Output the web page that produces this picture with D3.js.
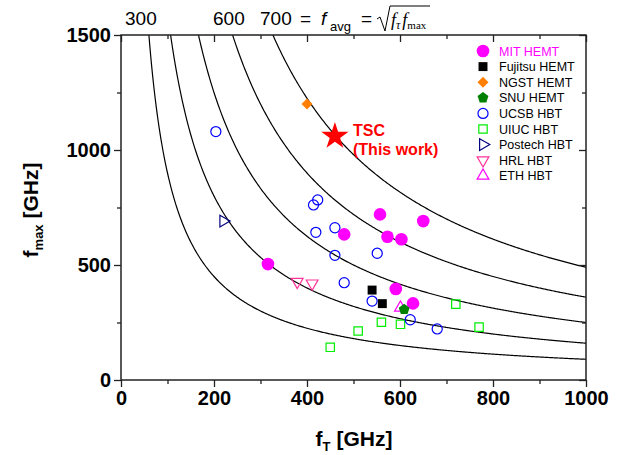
<!DOCTYPE html>
<html>
<head>
<meta charset="utf-8">
<script src="https://cdn.jsdelivr.net/npm/d3@7"></script>
<style>
  body { margin: 0; background: #fff; }
  svg { font-family: Arial, "Liberation Sans", sans-serif; }
</style>
</head>
<body>
<div id="chart"></div>
<script>
// Data: [fT, fmax] in GHz.
var mitHemt = [[557, 720], [650, 691], [480, 633], [573, 623], [603, 612], [316, 504], [591, 396], [628, 333]];
var fujitsuHemt = [[540, 391], [562, 332]];
var ngstHemt = [[400, 1200]];
var snuHemt = [[609, 307]];
var ucsbHbt = [[204, 1080], [423, 783], [414, 761], [419, 642], [460, 662], [460, 542], [551, 551], [480, 423], [540, 343], [622, 262], [680, 222]];
var uiucHbt = [[720, 330], [770, 230], [560, 251], [601, 242], [510, 213], [450, 142]];
var postechHbt = [[220, 691]];
var hrlHbt = [[379, 427], [411, 420]];
var ethHbt = [[601, 314]];
var thisWork = [[460, 1060]];

// Constant sqrt(fT * fmax) contours.
var avgLevels = [300, 400, 500, 600, 700];
var topLabels = ["300", "600", "700"];

var xMajor = [0, 200, 400, 600, 800, 1000];
var xMinor = [100, 300, 500, 700, 900];
var yMajor = [0, 500, 1000, 1500];
var yMinor = [250, 750, 1250];

var width = 623, height = 455;
var svg = d3.select("#chart").append("svg")
    .attr("width", width)
    .attr("height", height);

var x = d3.scaleLinear().domain([0, 1000]).range([121, 586]);
var y = d3.scaleLinear().domain([0, 1500]).range([380, 35]);

// Contour curves.
var curve = d3.line().x(d => x(d[0])).y(d => y(d[1]));
svg.append("clipPath").attr("id", "plot")
  .append("rect").attr("x", x(0)).attr("y", y(1500)).attr("width", x(1000) - x(0)).attr("height", y(0) - y(1500));

svg.append("g").attr("clip-path", "url(#plot)")
  .selectAll("path")
  .data(avgLevels)
  .join("path")
    .attr("d", f => {
      var start = f * f / 1500, pts = [];
      for (var t = start; t <= 1000; t += 2) pts.push([t, f * f / t]);
      pts.push([1000, f * f / 1000]);
      return curve(pts);
    })
    .attr("fill", "none")
    .attr("stroke", "#000")
    .attr("stroke-width", 1.2);

// Axes.
function styleAxis(g) {
  g.select(".domain").remove();
  g.selectAll(".tick line").attr("stroke", "#222").attr("stroke-width", 1.3);
  g.selectAll("text").attr("font-size", 20).attr("font-weight", "bold").attr("fill", "#000").attr("font-family", "Arial, Liberation Sans, sans-serif");
}

svg.append("g").attr("transform", "translate(0," + y(0) + ")")
  .call(d3.axisBottom(x).tickValues(xMajor).tickSize(7).tickPadding(4).tickFormat(d3.format("d")))
  .call(styleAxis);
svg.append("g").attr("transform", "translate(0," + y(0) + ")")
  .call(d3.axisBottom(x).tickValues(xMinor).tickSize(4).tickFormat(""))
  .call(styleAxis);
svg.append("g").attr("transform", "translate(0," + y(1500) + ")")
  .call(d3.axisTop(x).tickValues(xMajor).tickSize(-7).tickFormat(""))
  .call(styleAxis);
svg.append("g").attr("transform", "translate(0," + y(1500) + ")")
  .call(d3.axisTop(x).tickValues(xMinor).tickSize(-4).tickFormat(""))
  .call(styleAxis);

svg.append("g").attr("transform", "translate(" + x(0) + ",0)")
  .call(d3.axisLeft(y).tickValues(yMajor).tickSize(7).tickPadding(3).tickFormat(d3.format("d")))
  .call(styleAxis);
svg.append("g").attr("transform", "translate(" + x(0) + ",0)")
  .call(d3.axisLeft(y).tickValues(yMinor).tickSize(4).tickFormat(""))
  .call(styleAxis);
svg.append("g").attr("transform", "translate(" + x(1000) + ",0)")
  .call(d3.axisRight(y).tickValues(yMajor).tickSize(-7).tickFormat(""))
  .call(styleAxis);
svg.append("g").attr("transform", "translate(" + x(1000) + ",0)")
  .call(d3.axisRight(y).tickValues(yMinor).tickSize(-4).tickFormat(""))
  .call(styleAxis);

// Frame.
svg.append("rect")
  .attr("x", x(0)).attr("y", y(1500))
  .attr("width", x(1000) - x(0)).attr("height", y(0) - y(1500))
  .attr("fill", "none").attr("stroke", "#222").attr("stroke-width", 1.5);

// Axis titles.
var xt = svg.append("text").attr("x", 354).attr("y", 446).attr("text-anchor", "middle")
  .attr("font-size", 21).attr("font-weight", "bold");
xt.append("tspan").text("f");
xt.append("tspan").attr("font-size", 13).attr("dy", 5).text("T");
xt.append("tspan").attr("dy", -5).text(" [GHz]");

var yt = svg.append("text").attr("transform", "translate(38,210) rotate(-90)").attr("text-anchor", "middle")
  .attr("font-size", 21).attr("font-weight", "bold");
yt.append("tspan").text("f");
yt.append("tspan").attr("font-size", 13).attr("dy", 5).text("max");
yt.append("tspan").attr("dy", -5).text(" [GHz]");

// Top annotation: contour labels and the f_avg definition.
var topX = [125, 213, 260];
svg.append("g").selectAll("text")
  .data(topLabels)
  .join("text")
    .attr("x", (d, i) => topX[i]).attr("y", 25)
    .attr("font-size", 19)
    .text(d => d);

var eq = svg.append("text").attr("x", 300).attr("y", 25).attr("font-size", 19);
eq.append("tspan").text("=");
eq.append("tspan").attr("x", 321).attr("font-style", "italic").text("f");
eq.append("tspan").attr("x", 330).attr("dy", 6).attr("font-size", 13).text("avg");
eq.append("tspan").attr("x", 361).attr("dy", -6).text("=");

svg.append("path")
  .attr("d", "M377,19 L380,17 L385,31 L390,6 L430,6")
  .attr("fill", "none").attr("stroke", "#000").attr("stroke-width", 1);
var rad = svg.append("text").attr("x", 391).attr("y", 26)
  .attr("font-family", "Liberation Serif, Times New Roman, serif").attr("font-size", 18);
rad.append("tspan").attr("font-style", "italic").text("f");
rad.append("tspan").attr("font-style", "italic").attr("font-size", 12).attr("dy", 3).text("\u03c4");
rad.append("tspan").attr("font-style", "italic").attr("dy", -3).attr("dx", 2).text("f");
rad.append("tspan").attr("font-size", 11).attr("dy", 3).text("max");

// Series.
var sym = {
  circle: d3.symbolCircle, square: d3.symbolSquare,
  star: d3.symbolStar, triangle: d3.symbolTriangle
};

var series = [
  { name: "UIUC HBT", data: uiucHbt, shape: "square", size: 70, fill: "none", stroke: "#00ee00" },
  { name: "UCSB HBT", data: ucsbHbt, shape: "circle", size: 80, fill: "none", stroke: "#0000ff" },
  { name: "Postech HBT", data: postechHbt, shape: "triangle", rot: 90, size: 60, fill: "none", stroke: "#000080" },
  { name: "HRL HBT", data: hrlHbt, shape: "triangle", rot: 180, size: 60, fill: "none", stroke: "#ff3399" },
  { name: "ETH HBT", data: ethHbt, shape: "triangle", rot: 0, size: 60, fill: "none", stroke: "#ff00ff" },
  { name: "Fujitsu HEMT", data: fujitsuHemt, shape: "square", size: 80, fill: "#000", stroke: "none" },
  { name: "MIT HEMT", data: mitHemt, shape: "circle", size: 125, fill: "#ff00ff", stroke: "none" },
  { name: "NGST HEMT", data: ngstHemt, shape: "square", rot: 45, size: 60, fill: "#ff7f00", stroke: "none" },
  { name: "SNU HEMT", data: snuHemt, shape: "pentagon", size: 90, fill: "#007f00", stroke: "none" }
];

function pentagon(r) {
  var pts = [];
  for (var i = 0; i < 5; i++) {
    var a = -Math.PI / 2 + i * 2 * Math.PI / 5;
    pts.push([r * Math.cos(a), r * Math.sin(a)]);
  }
  return "M" + pts.join("L") + "Z";
}

function symPath(s) {
  if (s.shape === "pentagon") return pentagon(Math.sqrt(s.size) * 0.6);
  return d3.symbol().type(sym[s.shape]).size(s.size)();
}

function symTransform(s, px, py) {
  var t = "translate(" + px + "," + py + ")";
  if (s.rot) t += " rotate(" + s.rot + ")";
  return t;
}

series.forEach(s => {
  svg.append("g").selectAll("path")
    .data(s.data)
    .join("path")
      .attr("d", symPath(s))
      .attr("transform", d => symTransform(s, x(d[0]), y(d[1])))
      .attr("fill", s.fill)
      .attr("stroke", s.stroke)
      .attr("stroke-width", 1.2);
});

// This work.
svg.append("g").selectAll("path")
  .data(thisWork)
  .join("path")
    .attr("d", d3.symbol().type(d3.symbolStar).size(230)())
    .attr("transform", d => "translate(" + x(d[0]) + "," + y(d[1]) + ")")
    .attr("fill", "#ff0000");

var tsc = svg.append("text").attr("x", 353).attr("y", 136)
  .attr("font-size", 16).attr("font-weight", "bold").attr("fill", "#ff0000");
tsc.append("tspan").text("TSC");
tsc.append("tspan").attr("x", 353).attr("dy", 19).text("(This work)");

// Legend.
var legendOrder = ["MIT HEMT", "Fujitsu HEMT", "NGST HEMT", "SNU HEMT", "UCSB HBT", "UIUC HBT", "Postech HBT", "HRL HBT", "ETH HBT"];
var legend = svg.append("g").attr("transform", "translate(483,51)");
legendOrder.forEach((name, i) => {
  var s = series.find(t => t.name === name);
  var row = legend.append("g").attr("transform", "translate(0," + (i * 15.6) + ")");
  row.append("path")
    .attr("d", symPath(s))
    .attr("transform", symTransform(s, 0, 0))
    .attr("fill", s.fill)
    .attr("stroke", s.stroke)
    .attr("stroke-width", 1.2);
  row.append("text")
    .attr("x", 16).attr("y", 4.5)
    .attr("font-size", 12.5)
    .attr("fill", name === "MIT HEMT" ? "#ff00ff" : "#000")
    .text(name);
});
</script>
</body>
</html>
